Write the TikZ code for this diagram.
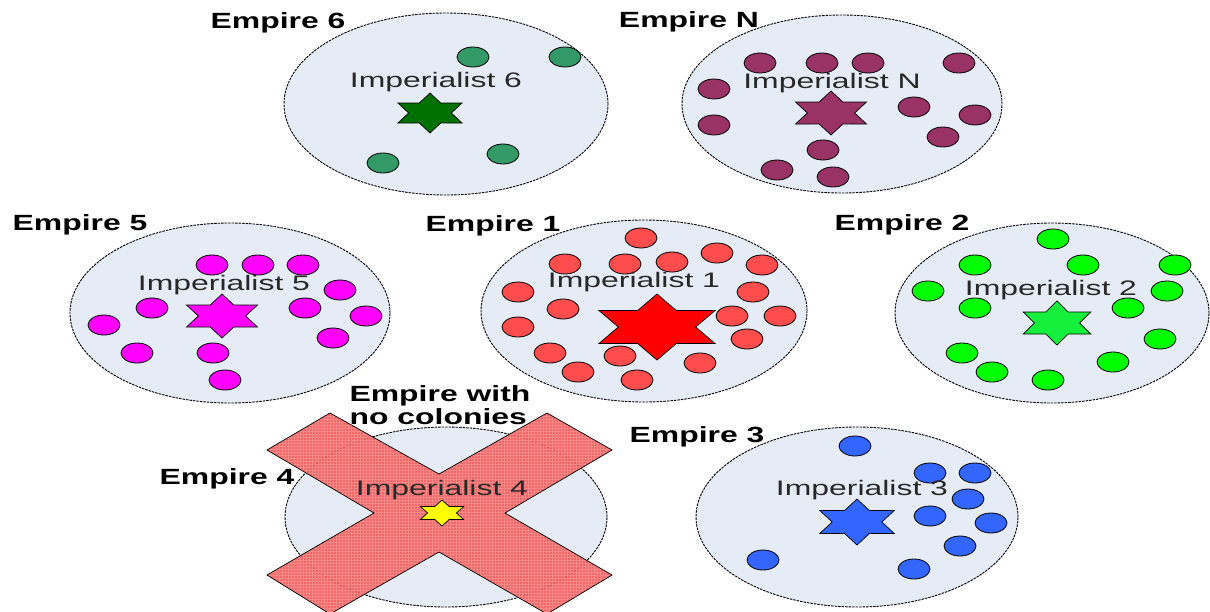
\documentclass[tikz,border=0pt]{standalone}
\usepackage{fontspec}
\setmainfont{Liberation Sans}
\usetikzlibrary{patterns}
\definecolor{bgell}{RGB}{230,236,246}
\definecolor{colsix}{RGB}{51,153,102}
\definecolor{starsix}{RGB}{0,112,0}
\definecolor{colN}{RGB}{153,51,102}
\definecolor{colfive}{RGB}{255,0,255}
\definecolor{colone}{RGB}{255,77,77}
\definecolor{starone}{RGB}{255,0,0}
\definecolor{coltwo}{RGB}{0,255,0}
\definecolor{startwo}{RGB}{20,240,60}
\definecolor{colthree}{RGB}{51,102,255}
\definecolor{starfour}{RGB}{255,255,0}
\definecolor{xred}{RGB}{242,85,85}
\definecolor{txtgray}{RGB}{40,40,40}
\tikzset{
  empire/.style={draw=black, fill=bgell, line width=0.9pt, dash pattern=on 2.5pt off 1pt},
  col/.style={draw=black, line width=0.8pt},
  starline/.style={draw=black, line width=0.7pt, line join=miter},
  elabel/.style={font=\fontsize{22}{23}\selectfont\bfseries, inner sep=0pt, text=black},
  ilabel/.style={font=\fontsize{21}{23}\selectfont, inner sep=0pt, text=txtgray},
  crossx/.style={draw=black, line width=0.7pt, fill opacity=0.88,
     preaction={fill=xred, fill opacity=0.88}, pattern=grid, pattern color=white!30!xred}
}
\newcommand\hexstar[5]{%
  \draw[starline, fill=#5, shift={(#1,#2)}, xscale=#3, yscale=#4]
   (90:1)--(60:0.577)--(30:1)--(0:0.577)--(-30:1)--(-60:0.577)--(-90:1)--(-120:0.577)--(-150:1)--(180:0.577)--(150:1)--(120:0.577)--cycle;}
\newcommand\colony[3]{\draw[col, fill=#3] (#1,#2) ellipse [x radius=16pt, y radius=10pt];}
\newcommand\wide[1]{\scalebox{1.45}[1]{#1}}
\newcommand\widei[1]{\scalebox{1.52}[1]{#1}}
\begin{document}
\begin{tikzpicture}[x=1pt,y=-1pt]
\useasboundingbox (0,0) rectangle (1210,611);
\fill[white] (0,0) rectangle (1210,611);
% ellipses
\draw[empire] (446,104) ellipse [x radius=162pt, y radius=91pt];
\draw[empire] (842,104) ellipse [x radius=160pt, y radius=89pt];
\draw[empire] (230,313) ellipse [x radius=160pt, y radius=90pt];
\draw[empire] (644,311) ellipse [x radius=163pt, y radius=91pt];
\draw[empire] (1052,313) ellipse [x radius=157pt, y radius=90pt];
\draw[empire] (446,517) ellipse [x radius=161pt, y radius=90pt];
\draw[empire] (857,517) ellipse [x radius=161pt, y radius=90pt];
% Empire 6
\node[ilabel] (i6) at (436,82) {\widei{Imperialist 6}};
\colony{473}{57}{colsix}\colony{565}{57}{colsix}\colony{383}{163}{colsix}\colony{503}{154}{colsix}
\hexstar{430}{113}{37}{20}{starsix}
% Empire N
\colony{760}{63}{colN}\colony{822}{63}{colN}\colony{868}{63}{colN}\colony{959}{63}{colN}
\colony{714}{89}{colN}\colony{714}{125}{colN}\colony{914}{107}{colN}\colony{975}{115}{colN}
\colony{943}{137}{colN}\colony{823}{150}{colN}\colony{777}{170}{colN}\colony{833}{177}{colN}
\node[ilabel] (iN) at (832,83) {\widei{Imperialist N}};
\hexstar{831}{113}{41}{22}{colN}
% Empire 5
\colony{212}{265}{colfive}\colony{258}{265}{colfive}\colony{303}{265}{colfive}
\colony{340}{290}{colfive}\colony{152}{308}{colfive}\colony{305}{308}{colfive}
\colony{366}{316}{colfive}\colony{104}{325}{colfive}\colony{333}{338}{colfive}
\colony{137}{353}{colfive}\colony{213}{353}{colfive}\colony{225}{380}{colfive}
\node[ilabel] (i5) at (224,285) {\widei{Imperialist 5}};
\hexstar{222}{316}{41}{22}{colfive}
% Empire 1
\colony{641}{238}{colone}\colony{717}{253}{colone}\colony{565}{264}{colone}
\colony{625}{264}{colone}\colony{672}{262}{colone}\colony{762}{265}{colone}
\colony{518}{292}{colone}\colony{753}{292}{colone}\colony{563}{309}{colone}
\colony{732}{316}{colone}\colony{780}{316}{colone}\colony{518}{327}{colone}
\colony{747}{339}{colone}\colony{550}{353}{colone}\colony{620}{356}{colone}
\colony{700}{363}{colone}\colony{578}{372}{colone}\colony{637}{380}{colone}
\node[ilabel] (i1) at (634,282) {\widei{Imperialist 1}};
\hexstar{657}{327}{67}{33}{starone}
% Empire 2
\colony{1053}{239}{coltwo}\colony{975}{265}{coltwo}\colony{1083}{265}{coltwo}
\colony{1175}{265}{coltwo}\colony{928}{291}{coltwo}\colony{1167}{291}{coltwo}
\colony{975}{308}{coltwo}\colony{1128}{308}{coltwo}\colony{1160}{339}{coltwo}
\colony{962}{353}{coltwo}\colony{1113}{362}{coltwo}\colony{992}{372}{coltwo}
\colony{1048}{380}{coltwo}
\node[ilabel] (i2) at (1051,290) {\widei{Imperialist 2}};
\hexstar{1057}{323}{39}{22}{startwo}
% Empire 3
\colony{855}{446}{colthree}\colony{930}{473}{colthree}\colony{975}{473}{colthree}
\colony{968}{499}{colthree}\colony{930}{516}{colthree}\colony{991}{523}{colthree}
\colony{960}{546}{colthree}\colony{763}{560}{colthree}\colony{914}{569}{colthree}
\node[ilabel] (i3) at (862,490) {\widei{Imperialist 3}};
\hexstar{857}{522}{43}{23}{colthree}
% Empire 4 with cross
\path[crossx] (330,413) -- (439,474) -- (547,413) -- (612,450) -- (505,513) -- (612,575)
  -- (547,614) -- (439,552) -- (330,614) -- (267,575) -- (374,513) -- (267,450) -- cycle;
\node[ilabel] (i4) at (442,490) {\widei{Imperialist 4}};
\hexstar{442}{513}{25}{13}{starfour}
% Empire labels
\node[elabel] (e6) at (278,23) {\wide{Empire 6}};
\node[elabel] (eN) at (689,22) {\wide{Empire N}};
\node[elabel] (e5) at (80,225) {\wide{Empire 5}};
\node[elabel] (e1) at (493,226) {\wide{Empire 1}};
\node[elabel] (e2) at (902,225) {\wide{Empire 2}};
\node[elabel] (e4) at (227,479) {\wide{Empire 4}};
\node[elabel] (e3) at (697,437) {\wide{Empire 3}};
\node[elabel, align=left] (enc) at (440,405) {\wide{Empire with}\\\wide{no colonies}};
\end{tikzpicture}
\end{document}
